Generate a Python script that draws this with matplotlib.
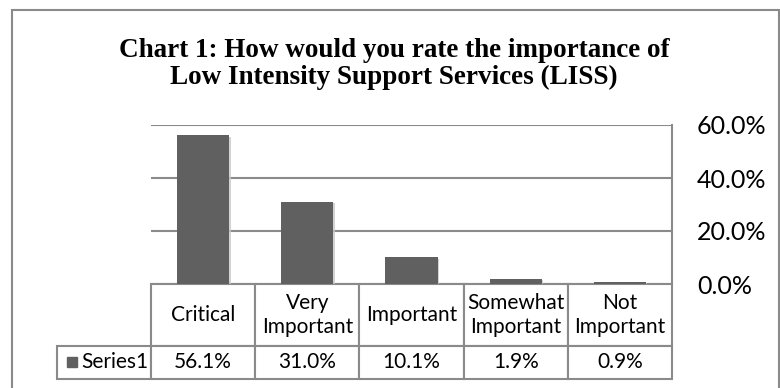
import matplotlib.pyplot as plt
import matplotlib.patheffects as pe
from matplotlib.patches import Rectangle
from matplotlib.table import Table
from matplotlib.ticker import PercentFormatter, MultipleLocator

# data
categories = ["Critical", "Very\nImportant", "Important", "Somewhat\nImportant", "Not\nImportant"]
values = [56.1, 31.0, 10.1, 1.9, 0.9]
series_name = "Series1"
title_lines = ["Chart 1: How would you rate the importance of",
               "Low Intensity Support Services (LISS)"]

W, H = 780, 388
BAR = "#606060"
LINE = "#8a8a8a"
SANS = ["Lato", "DejaVu Sans"]

fig = plt.figure(figsize=(W / 100, H / 100), dpi=100)


def fx(px):
    return px / W


def fy(py):
    return 1 - py / H


# outer chart frame
fig.patches.append(Rectangle((fx(12), fy(400)), fx(779) - fx(12), fy(10) - fy(400),
                             transform=fig.transFigure, fill=False,
                             edgecolor=LINE, linewidth=1.5))

# title, two lines
fig.text(fx(394), fy(57), title_lines[0], ha="center", va="baseline",
         fontfamily="Liberation Serif", fontweight="bold", fontsize=19.5)
fig.text(fx(394), fy(84), title_lines[1], ha="center", va="baseline",
         fontfamily="Liberation Serif", fontweight="bold", fontsize=19.5)

# plot area
ax = fig.add_axes([fx(151), fy(284), fx(672) - fx(151), fy(125) - fy(284)])
x = list(range(len(values)))
bars = ax.bar(x, values, width=0.5, color=BAR, zorder=3)
for b in bars:
    b.set_path_effects([pe.SimplePatchShadow(offset=(1, -1), shadow_rgbFace="#c8c8c8", alpha=0.8),
                        pe.Normal()])

ax.set_xlim(-0.5, len(values) - 0.5)
ax.set_ylim(0, 60)
ax.yaxis.set_major_locator(MultipleLocator(20))
ax.yaxis.set_major_formatter(PercentFormatter(decimals=1))
ax.yaxis.tick_right()
ax.tick_params(axis="y", length=0, pad=18, labelsize=18)
for lab in ax.get_yticklabels():
    lab.set_fontfamily(SANS)
ax.set_xticks([])
ax.yaxis.grid(True, color=LINE, linewidth=1.5, zorder=0)
ax.set_axisbelow(True)
for side in ["top", "left", "bottom"]:
    ax.spines[side].set_visible(False)
ax.spines["right"].set_color(LINE)
ax.spines["right"].set_linewidth(1.5)

# data table under the plot; column 0 holds the series label
ax_px = 672 - 151
col_px = ax_px / 5
lab_px = 151 - 57
tbl = Table(ax, bbox=[-lab_px / ax_px, -95 / 159, (ax_px + lab_px) / ax_px, 95 / 159])
corner = tbl.add_cell(0, 0, width=lab_px, height=62, text="")
corner.visible_edges = ""
tbl.add_cell(1, 0, width=lab_px, height=33, text="")
for j, cat in enumerate(categories):
    tbl.add_cell(0, j + 1, width=col_px, height=62, text=cat, loc="center")
    tbl.add_cell(1, j + 1, width=col_px, height=33, text=f"{values[j]:.1f}%", loc="center")
tbl.auto_set_font_size(False)
tbl.set_fontsize(15)
for cell in tbl.get_celld().values():
    cell.set_edgecolor(LINE)
    cell.set_linewidth(1.5)
    cell.get_text().set_fontfamily(SANS)
ax.add_table(tbl)

# legend key in the row label cell
fig.patches.append(Rectangle((fx(67), fy(367)), fx(77) - fx(67), fy(357) - fy(367),
                             transform=fig.transFigure, color=BAR))
fig.text(fx(81), fy(362), series_name, ha="left", va="center",
         fontfamily=SANS, fontsize=15)

fig.savefig("out.png", dpi=100)
